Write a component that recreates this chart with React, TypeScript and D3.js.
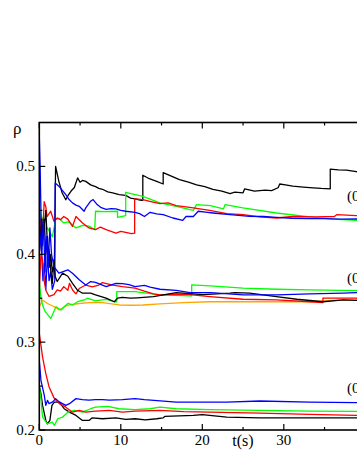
import React, { useEffect, useRef } from 'react';
import * as d3 from 'd3';

type Pt = [number, number];

// x ticks (s) and y ticks (rho)
const xMajor = [0, 10, 20, 30, 40];
const xMinor = [5, 15, 25, 35, 45];
const yMajor = [0.2, 0.3, 0.4, 0.5];
const yMinor = [0.25, 0.35, 0.45];
const groupLabels = ['(0.45)', '(0.35)', '(0.22)'];
const groupLabelRho = [0.466, 0.373, 0.248];

// upper group
const topBlack: Pt[] = [[0, 0.45], [0.2, 0.43], [0.4, 0.41], [0.6, 0.44], [0.8, 0.40], [1.0, 0.42], [1.2, 0.385], [1.4, 0.40], [1.6, 0.38], [1.85, 0.39], [2.0, 0.50], [2.4, 0.483], [2.8, 0.47], [3.25, 0.462], [3.6, 0.468], [3.9, 0.472], [4.3, 0.476], [4.7, 0.487], [5.0, 0.482], [5.3, 0.484], [5.7, 0.483], [6.3, 0.479], [6.9, 0.477], [7.3, 0.475], [7.75, 0.474], [8.4, 0.471], [9.0, 0.470], [9.8, 0.468], [10.6, 0.467], [11.2, 0.464], [11.75, 0.463], [12.5, 0.4615], [12.7, 0.4615], [12.7, 0.490], [13.5, 0.486], [14.4, 0.483], [15.2, 0.480], [15.2, 0.493], [16.2, 0.489], [17.2, 0.485], [18.3, 0.482], [19.3, 0.479], [20.3, 0.477], [21.3, 0.474], [22.4, 0.472], [23.4, 0.469], [24.0, 0.4707], [25.0, 0.470], [25.2, 0.4745], [26.4, 0.472], [27.7, 0.473], [28.5, 0.4725], [29.3, 0.4757], [29.5, 0.48], [30.2, 0.479], [31.1, 0.4775], [32.4, 0.4765], [33.6, 0.4757], [34.6, 0.475], [35.7, 0.4745], [35.7, 0.497], [36.7, 0.496], [37.7, 0.4957], [38.9, 0.494], [40, 0.493], [42, 0.492]];
const topRed: Pt[] = [[0, 0.40], [0.2, 0.44], [0.4, 0.42], [0.6, 0.46], [0.8, 0.454], [0.95, 0.443], [1.4, 0.449], [1.8, 0.4375], [2.2, 0.4413], [2.6, 0.4394], [3.0, 0.443], [3.5, 0.44], [4.07, 0.4318], [4.5, 0.443], [5.3, 0.4357], [6.1, 0.430], [6.9, 0.428], [7.5, 0.431], [8.2, 0.428], [9.4, 0.4242], [10.0, 0.426], [10.6, 0.425], [11.3, 0.4234], [11.7, 0.424], [11.7, 0.463], [12.7, 0.4623], [13.7, 0.460], [14.8, 0.4577], [15.8, 0.4585], [16.8, 0.4554], [18.0, 0.454], [18.9, 0.4528], [20.9, 0.450], [23.0, 0.4463], [25.0, 0.4451], [27.05, 0.4425], [29.1, 0.4413], [31.1, 0.443], [33.9, 0.4425], [36.2, 0.443], [36.5, 0.4451], [38.9, 0.444], [42, 0.4435]];
const topGreen: Pt[] = [[0, 0.45], [0.4, 0.44], [0.8, 0.428], [1.0, 0.43], [1.6, 0.42], [2.0, 0.4394], [2.4, 0.441], [3.0, 0.4357], [3.6, 0.437], [4.5, 0.430], [5.3, 0.433], [6.1, 0.432], [6.8, 0.428], [6.9, 0.449], [8.0, 0.4485], [9.6, 0.449], [9.6, 0.442], [10.6, 0.444], [10.6, 0.4706], [12.7, 0.466], [14.8, 0.4585], [16.8, 0.4546], [18.9, 0.450], [19.3, 0.4566], [21.0, 0.4555], [22.6, 0.4517], [22.8, 0.4566], [25.0, 0.4528], [29.1, 0.447], [33.2, 0.4425], [36.0, 0.440], [38.9, 0.4386], [42, 0.437]];
const topBlue: Pt[] = [[0, 0.535], [0.1, 0.50], [0.2, 0.45], [0.3, 0.40], [0.45, 0.37], [0.6, 0.39], [0.8, 0.36], [1.0, 0.40], [1.2, 0.37], [1.4, 0.38], [1.6, 0.36], [1.9, 0.37], [1.95, 0.481], [2.4, 0.4775], [2.8, 0.473], [3.25, 0.468], [3.6, 0.463], [4.07, 0.4585], [4.5, 0.456], [4.9, 0.4546], [5.5, 0.449], [5.7, 0.4528], [6.3, 0.4604], [6.6, 0.4623], [7.1, 0.4566], [7.6, 0.453], [8.2, 0.451], [8.8, 0.452], [9.4, 0.4517], [10.0, 0.450], [10.6, 0.449], [11.75, 0.4478], [12.3, 0.4463], [12.9, 0.443], [13.6, 0.4478], [14.4, 0.446], [15.2, 0.4451], [16.4, 0.4413], [17.6, 0.4386], [18.0, 0.443], [18.9, 0.443], [19.5, 0.449], [20.4, 0.448], [21.3, 0.447], [23.4, 0.4451], [25.8, 0.4432], [27.5, 0.443], [29.1, 0.442], [31, 0.441], [33.2, 0.4405], [35, 0.4405], [37, 0.440], [38.9, 0.4402], [42, 0.439]];

// middle group
const midBlack: Pt[] = [[0, 0.40], [0.3, 0.44], [0.5, 0.42], [0.8, 0.45], [1.0, 0.41], [1.2, 0.405], [1.4, 0.382], [1.6, 0.367], [1.8, 0.394], [1.95, 0.3746], [2.2, 0.369], [2.85, 0.3785], [3.5, 0.375], [4.07, 0.367], [4.7, 0.359], [5.3, 0.3557], [6.3, 0.3557], [6.9, 0.3537], [8.2, 0.350], [9.2, 0.346], [9.6, 0.350], [10.2, 0.351], [11.2, 0.350], [12.0, 0.3505], [14.0, 0.3518], [16.8, 0.3563], [18.9, 0.3549], [20.1, 0.354], [23.4, 0.3557], [24.0, 0.3563], [25.8, 0.3557], [29.1, 0.3518], [31.6, 0.3488], [34.8, 0.346], [37.3, 0.348], [38.9, 0.3475], [42, 0.347]];
const midRed: Pt[] = [[0, 0.36], [0.2, 0.40], [0.4, 0.394], [0.6, 0.37], [0.8, 0.359], [1.2, 0.352], [1.8, 0.354], [2.2, 0.3594], [2.6, 0.358], [3.0, 0.3632], [3.5, 0.359], [3.7, 0.367], [4.1, 0.359], [4.5, 0.355], [4.9, 0.361], [5.7, 0.365], [6.5, 0.363], [7.3, 0.365], [7.75, 0.3678], [9.0, 0.365], [10.2, 0.3632], [11.75, 0.3614], [12.9, 0.358], [14.0, 0.355], [14.8, 0.3537], [16.8, 0.3545], [18.5, 0.354], [20.9, 0.3518], [25.0, 0.3488], [29.1, 0.348], [33.2, 0.346], [34.8, 0.345], [34.8, 0.350], [38.9, 0.350], [42, 0.3495]];
const midGreen: Pt[] = [[0, 0.37], [0.2, 0.35], [0.4, 0.3423], [0.7, 0.335], [1.4, 0.327], [1.6, 0.331], [2.04, 0.3403], [2.65, 0.3366], [3.5, 0.344], [4.1, 0.3423], [4.7, 0.346], [5.5, 0.348], [5.9, 0.350], [6.9, 0.347], [8.2, 0.3488], [9.2, 0.346], [9.5, 0.346], [9.5, 0.3575], [11.75, 0.3575], [14.8, 0.3537], [18.3, 0.3526], [18.7, 0.3526], [18.7, 0.3651], [21.0, 0.364], [25.0, 0.3614], [29.1, 0.3602], [33.2, 0.3594], [38.9, 0.3586], [42, 0.358]];
const midBlue: Pt[] = [[0, 0.43], [0.3, 0.40], [0.5, 0.44], [0.7, 0.38], [0.9, 0.42], [1.1, 0.39], [1.3, 0.43], [1.5, 0.40], [1.8, 0.386], [2.4, 0.3785], [2.85, 0.380], [3.5, 0.3823], [4.07, 0.3785], [4.9, 0.371], [5.7, 0.365], [6.3, 0.369], [6.9, 0.368], [8.2, 0.3632], [9.4, 0.367], [10.2, 0.3665], [11.0, 0.3655], [11.75, 0.3632], [12.9, 0.3645], [13.6, 0.3625], [14.8, 0.3602], [16.8, 0.359], [18.5, 0.3563], [21.0, 0.3563], [25.0, 0.3537], [29.1, 0.3537], [33.2, 0.3549], [37.3, 0.3557], [38.9, 0.3563], [42, 0.356]];
const midOrange: Pt[] = [[0, 0.34], [0.4, 0.348], [1.0, 0.344], [1.85, 0.3403], [2.45, 0.3366], [3.05, 0.3403], [3.7, 0.3423], [4.9, 0.344], [6.1, 0.345], [7.75, 0.345], [9.8, 0.3423], [11.2, 0.342], [12.7, 0.3423], [14.8, 0.3435], [17.7, 0.345], [20.9, 0.346], [25.0, 0.346], [29.1, 0.346], [33.2, 0.346], [37.3, 0.348], [38.9, 0.348], [42, 0.348]];

// lower group
const botBlack: Pt[] = [[0, 0.25], [0.2, 0.2414], [0.4, 0.228], [0.8, 0.2109], [1.0, 0.207], [1.3, 0.2109], [1.55, 0.228], [1.85, 0.2318], [2.45, 0.2318], [3.05, 0.2242], [3.7, 0.2203], [4.5, 0.2166], [5.3, 0.2109], [6.1, 0.2109], [6.5, 0.2139], [7.75, 0.2128], [9.4, 0.2139], [10.6, 0.212], [11.75, 0.2128], [13.0, 0.2116], [14.4, 0.2128], [15.2, 0.2139], [15.4, 0.2154], [18.9, 0.2166], [20.0, 0.2174], [23.0, 0.2146], [27.05, 0.2139], [33.2, 0.2139], [38.9, 0.2139], [42, 0.214]];
const botRed: Pt[] = [[0, 0.31], [0.2, 0.2966], [0.4, 0.283], [0.8, 0.2642], [1.2, 0.249], [1.85, 0.2357], [2.45, 0.230], [3.25, 0.226], [4.07, 0.2203], [4.9, 0.2223], [5.7, 0.2203], [6.9, 0.2215], [8.6, 0.2223], [10.2, 0.2203], [11.75, 0.2215], [14.8, 0.2223], [17.7, 0.221], [20.9, 0.2203], [27.05, 0.2192], [33.2, 0.2177], [38.9, 0.2166], [42, 0.216]];
const botGreen: Pt[] = [[0, 0.25], [0.2, 0.2357], [0.4, 0.2146], [1.0, 0.207], [1.6, 0.209], [1.85, 0.2051], [2.25, 0.2128], [2.85, 0.2146], [3.5, 0.2203], [4.3, 0.2223], [5.3, 0.2203], [6.3, 0.2242], [6.9, 0.226], [8.4, 0.2269], [9.8, 0.2242], [11.75, 0.2231], [13.6, 0.2242], [14.8, 0.226], [16.8, 0.2242], [20.9, 0.2231], [27.05, 0.2223], [33.2, 0.2215], [38.9, 0.2212], [42, 0.221]];
const botBlue: Pt[] = [[0, 0.2794], [0.2, 0.2566], [0.6, 0.240], [0.8, 0.228], [1.0, 0.2337], [1.2, 0.230], [1.65, 0.232], [2.0, 0.2357], [2.45, 0.232], [2.85, 0.230], [3.25, 0.228], [3.7, 0.230], [4.5, 0.2357], [5.3, 0.2345], [6.1, 0.234], [6.9, 0.2345], [7.75, 0.2345], [8.6, 0.234], [10.2, 0.2345], [11.75, 0.2357], [12.9, 0.2345], [16.8, 0.2318], [23.0, 0.2318], [27.05, 0.233], [33.2, 0.2318], [38.9, 0.2311], [42, 0.231]];

const series: { pts: Pt[]; color: string }[] = [
  { pts: topBlack, color: '#000000' },
  { pts: topGreen, color: '#00ff00' },
  { pts: topRed, color: '#ff0000' },
  { pts: topBlue, color: '#0000ff' },
  { pts: midOrange, color: '#ffa500' },
  { pts: midGreen, color: '#00ff00' },
  { pts: midRed, color: '#ff0000' },
  { pts: midBlack, color: '#000000' },
  { pts: midBlue, color: '#0000ff' },
  { pts: botBlack, color: '#000000' },
  { pts: botGreen, color: '#00ff00' },
  { pts: botRed, color: '#ff0000' },
  { pts: botBlue, color: '#0000ff' },
];

const font = "'Liberation Serif', 'Times New Roman', serif";

export default function App() {
  const ref = useRef<SVGSVGElement>(null);

  useEffect(() => {
    const svg = d3.select(ref.current);
    svg.selectAll('*').remove();

    const x = d3.scaleLinear().domain([0, 50]).range([39.3, 446.8]);
    const y = d3.scaleLinear().domain([0.2, 0.55]).range([430, 122.5]);
    const [x0, x1] = x.range();
    const [yb, yt] = y.range();

    svg.append('clipPath').attr('id', 'plot')
      .append('rect').attr('x', x0).attr('y', yt).attr('width', x1 - x0).attr('height', yb - yt);

    const line = d3.line<Pt>().x(d => x(d[0])).y(d => y(d[1]));

    svg.append('g').attr('clip-path', 'url(#plot)')
      .selectAll('path').data(series).join('path')
      .attr('d', d => line(d.pts))
      .attr('fill', 'none')
      .attr('stroke', d => d.color)
      .attr('stroke-width', 1.3)
      .attr('stroke-linejoin', 'round');

    // frame
    svg.append('rect')
      .attr('x', x0).attr('y', yt).attr('width', x1 - x0).attr('height', yb - yt)
      .attr('fill', 'none').attr('stroke', '#000').attr('stroke-width', 1.6);

    const ticks = svg.append('g').attr('stroke', '#000').attr('stroke-width', 1.2);
    const xt = [...xMajor.map(v => ({ v, l: 6 })), ...xMinor.map(v => ({ v, l: 3 }))];
    xt.forEach(t => {
      ticks.append('line').attr('x1', x(t.v)).attr('x2', x(t.v)).attr('y1', yb).attr('y2', yb - t.l);
      ticks.append('line').attr('x1', x(t.v)).attr('x2', x(t.v)).attr('y1', yt).attr('y2', yt + t.l);
    });
    const yTicks = [...yMajor.map(v => ({ v, l: 6 })), ...yMinor.map(v => ({ v, l: 3 }))];
    yTicks.forEach(t => {
      ticks.append('line').attr('x1', x0).attr('x2', x0 + t.l).attr('y1', y(t.v)).attr('y2', y(t.v));
      ticks.append('line').attr('x1', x1).attr('x2', x1 - t.l).attr('y1', y(t.v)).attr('y2', y(t.v));
    });

    const txt = svg.append('g').style('font-family', font).attr('fill', '#000');
    txt.selectAll('text.xl').data(xMajor).join('text')
      .attr('x', d => x(d)).attr('y', 445).attr('text-anchor', 'middle')
      .attr('font-size', 15).text(d => String(d));
    txt.selectAll('text.yl').data(yMajor).join('text')
      .attr('class', 'yl')
      .attr('x', 35).attr('y', d => y(d) + 5).attr('text-anchor', 'end')
      .attr('font-size', 15).text(d => d3.format('.1f')(d));

    txt.append('text').attr('x', 13).attr('y', 134).attr('font-size', 17).text('ρ');
    txt.append('text').attr('x', 243).attr('y', 446).attr('text-anchor', 'middle')
      .attr('font-size', 16).text('t(s)');

    groupLabels.forEach((s, i) => {
      txt.append('text').attr('x', 347).attr('y', y(groupLabelRho[i]) + 5)
        .attr('font-size', 15).text(s);
    });
  }, []);

  return (
    <div style={{ position: 'fixed', left: 0, top: 0, width: 357, height: 462, overflow: 'hidden', background: '#fff' }}>
      <svg ref={ref} width={460} height={462} style={{ display: 'block' }} />
    </div>
  );
}
